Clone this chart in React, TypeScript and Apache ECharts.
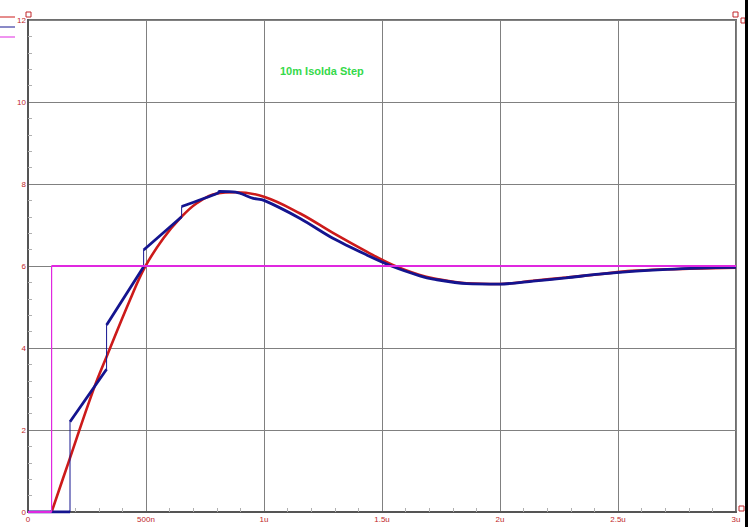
import React, { useEffect, useRef } from "react";
import * as echarts from "echarts";

// Time axis in microseconds
const xTickValues = [0, 0.5, 1, 1.5, 2, 2.5, 3];
const xTickLabels = ["0", "500n", "1u", "1.5u", "2u", "2.5u", "3u"];

// Red: simulated response
const redT = [0.1, 0.171, 0.277, 0.336, 0.432, 0.496, 0.573, 0.644, 0.715, 0.8, 0.88, 1.0, 1.153, 1.294, 1.435, 1.548, 1.66, 1.717, 1.859, 2.0, 2.14, 2.28, 2.42, 2.56, 2.71, 2.85, 3.0];
const redV = [0, 1.2, 2.98, 3.83, 5.17, 5.98, 6.67, 7.16, 7.53, 7.77, 7.8, 7.69, 7.28, 6.8, 6.35, 6.02, 5.78, 5.7, 5.58, 5.56, 5.64, 5.72, 5.8, 5.88, 5.92, 5.94, 5.96];

// Blue: measured (stepped) response; the thick trace breaks at each jump
const blueT = [0, 0.178, 0.178, 0.333, 0.333, 0.49, 0.49, 0.651, 0.651, 0.806, 0.81, 0.88, 0.955, 1.0, 1.153, 1.294, 1.435, 1.548, 1.66, 1.717, 1.859, 2.0, 2.14, 2.28, 2.42, 2.56, 2.71, 2.85, 3.0];
const blueV = [0, 0, 2.2, 3.48, 4.56, 5.98, 6.39, 7.2, 7.45, 7.78, 7.82, 7.8, 7.65, 7.6, 7.16, 6.67, 6.27, 5.98, 5.76, 5.68, 5.57, 5.56, 5.63, 5.71, 5.8, 5.87, 5.92, 5.95, 5.97];
const blueJumpAfter = [1, 3, 5, 7];

// Magenta: input step
const stepT = [0, 0.1, 0.1, 3];
const stepV = [0, 0, 6, 6];

const title = "10m Isolda Step";

export default function App() {
  const ref = useRef<HTMLDivElement>(null);
  useEffect(() => {
    document.body.style.margin = "0";
    const chart = echarts.init(ref.current!, null, { renderer: "svg" });
    const red = "#cc1a1a";
    const blue = "#14148f";
    const magenta = "#e028e0";
    const labelRed = "#c0262a";

    const blueFull = blueT.map((t, i) => [t, blueV[i]]);
    const blueThick: any[] = [];
    blueT.forEach((t, i) => {
      blueThick.push([t, blueV[i]]);
      if (blueJumpAfter.includes(i)) blueThick.push([t, null]);
    });
    const stepFull = stepT.map((t, i) => [t, stepV[i]]);
    const stepThick = [[stepT[0], stepV[0]], [stepT[1], stepV[1]], [stepT[1], null], [stepT[2], stepV[2]], [stepT[3], stepV[3]]];

    chart.setOption({
      animation: false,
      backgroundColor: "#ffffff",
      grid: {
        left: 28, top: 20, width: 708, height: 492,
        show: true, borderColor: "#6e6e6e", borderWidth: 2,
      },
      xAxis: {
        type: "value", min: 0, max: 3, interval: 0.5,
        axisLine: { show: true, lineStyle: { color: "#555", width: 2 } },
        axisTick: { show: false, inside: true },
        minorTick: { show: true, splitNumber: 5, length: 4, lineStyle: { color: "#b0b0b0" } },
        splitLine: { show: true, lineStyle: { color: "#808080", width: 1 } },
        axisLabel: {
          color: labelRed, fontSize: 8, fontFamily: "Liberation Sans, Arial", margin: 3,
          showMinLabel: true, showMaxLabel: true,
          formatter: (v: number) => {
            const i = xTickValues.findIndex((x) => Math.abs(x - v) < 1e-6);
            return i >= 0 ? xTickLabels[i] : "";
          },
        },
      },
      yAxis: {
        type: "value", min: 0, max: 12, interval: 2,
        axisLine: { show: true, lineStyle: { color: "#555", width: 2 } },
        axisTick: { show: false, inside: true },
        minorTick: { show: true, splitNumber: 5, length: 4, lineStyle: { color: "#b0b0b0" } },
        splitLine: { show: true, lineStyle: { color: "#808080", width: 1 } },
        axisLabel: { color: labelRed, fontSize: 8, fontFamily: "Liberation Sans, Arial", margin: 2 },
      },
      series: [
        {
          type: "line", data: redT.map((t, i) => [t, redV[i]]), smooth: 0.4, symbol: "none",
          lineStyle: { color: red, width: 2.6 }, z: 2,
        },
        {
          type: "line", data: blueFull, symbol: "none",
          lineStyle: { color: blue, width: 1 }, z: 3,
        },
        {
          type: "line", data: blueThick, symbol: "none", connectNulls: false, smooth: 0.3,
          lineStyle: { color: blue, width: 2.8 }, z: 3,
        },
        {
          type: "line", data: stepFull, symbol: "none",
          lineStyle: { color: magenta, width: 1.2 }, z: 4,
        },
        {
          type: "line", data: stepThick, symbol: "none", connectNulls: false,
          lineStyle: { color: magenta, width: 2.2 }, z: 4,
        },
      ],
      graphic: [
        {
          type: "text", x: 280, y: 71,
          style: { text: title, fill: "#35d94a", font: "bold 11px 'Liberation Sans', Arial", verticalAlign: "middle" },
        },
        { type: "line", shape: { x1: 0, y1: 17, x2: 15, y2: 17 }, style: { stroke: red, lineWidth: 1 } },
        { type: "line", shape: { x1: 0, y1: 27, x2: 15, y2: 27 }, style: { stroke: blue, lineWidth: 1 } },
        { type: "line", shape: { x1: 0, y1: 37, x2: 15, y2: 37 }, style: { stroke: magenta, lineWidth: 1 } },
        { type: "rect", shape: { x: 26, y: 12, width: 5, height: 5 }, style: { fill: "none", stroke: labelRed, lineWidth: 1 } },
        { type: "rect", shape: { x: 733, y: 12, width: 5, height: 5 }, style: { fill: "none", stroke: labelRed, lineWidth: 1 } },
        { type: "rect", shape: { x: 741, y: 18, width: 4, height: 5 }, style: { fill: "none", stroke: labelRed, lineWidth: 1 } },
        { type: "rect", shape: { x: 739, y: 506, width: 5, height: 5 }, style: { fill: "none", stroke: labelRed, lineWidth: 1 } },
        { type: "rect", shape: { x: 745, y: 0, width: 3, height: 527 }, style: { fill: "#000000" } },
      ],
    });
    return () => chart.dispose();
  }, []);
  return <div ref={ref} style={{ width: 748, height: 527 }} />;
}
